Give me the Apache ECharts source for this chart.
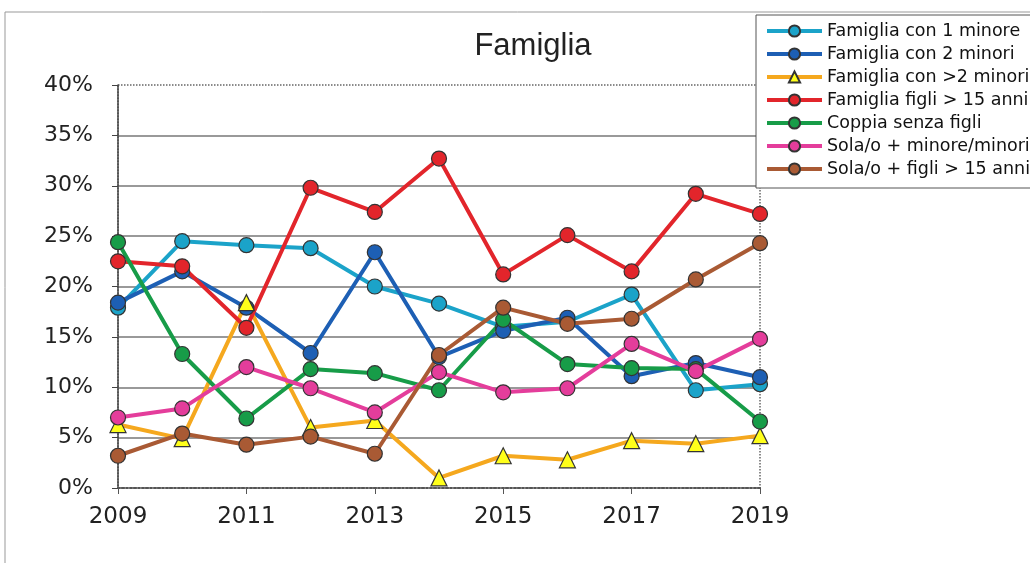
<!DOCTYPE html>
<html>
<head>
<meta charset="utf-8">
<script src="https://cdn.jsdelivr.net/npm/echarts@6/dist/echarts.min.js"></script>
<style>
  html, body { margin: 0; padding: 0; background: #fff; }
  #famiglia { width: 1030px; height: 563px; }
</style>
</head>
<body>
<div id="famiglia"></div>
<script>
var anni = ['2009', '2010', '2011', '2012', '2013', '2014', '2015', '2016', '2017', '2018', '2019']

var con1Minore = [17.9, 24.5, 24.1, 23.8, 20.0, 18.3, 16.0, 16.5, 19.2, 9.7, 10.3]
var con2Minori = [18.4, 21.5, 17.9, 13.4, 23.4, 13.0, 15.6, 16.9, 11.1, 12.4, 11.0]
var conPiuMinori = [6.3, 4.9, 18.4, 6.0, 6.7, 1.0, 3.2, 2.8, 4.7, 4.4, 5.2]
var figliOltre15 = [22.5, 22.0, 15.9, 29.8, 27.4, 32.7, 21.2, 25.1, 21.5, 29.2, 27.2]
var coppiaSenzaFigli = [24.4, 13.3, 6.9, 11.8, 11.4, 9.7, 16.7, 12.3, 11.9, 11.8, 6.6]
var solaMinori = [7.0, 7.9, 12.0, 9.9, 7.5, 11.5, 9.5, 9.9, 14.3, 11.6, 14.8]
var solaFigliOltre15 = [3.2, 5.4, 4.3, 5.1, 3.4, 13.2, 17.9, 16.3, 16.8, 20.7, 24.3]

var myChart = echarts.init(document.getElementById('famiglia'))

// serie con stile comune
function serie(nome, dati, colore, simbolo, riempimento) {
  return {
    name: nome,
    type: 'line',
    data: dati,
    symbol: simbolo || 'circle',
    symbolSize: simbolo === 'triangle' ? 16 : 15,
    showAllSymbol: true,
    lineStyle: { color: colore, width: 4 },
    itemStyle: {
      color: riempimento || colore,
      borderColor: '#333',
      borderWidth: 1.2
    },
    emphasis: { disabled: true },
    z: 3
  }
}

option = {
  animation: false,
  textStyle: { fontFamily: 'DejaVu Sans, sans-serif' },
  title: {
    text: 'Famiglia',
    left: 528,
    top: 26,
    textAlign: 'center',
    textStyle: { fontSize: 31, fontWeight: 'normal', color: '#222', fontFamily: 'Liberation Sans, Arial, sans-serif' }
  },
  legend: {
    orient: 'vertical',
    left: 756,
    top: 15,
    padding: [7, 20, 10, 9],
    itemWidth: 55,
    itemHeight: 14,
    itemGap: 5,
    backgroundColor: '#fff',
    borderColor: '#555',
    borderWidth: 1,
    lineStyle: { width: 4 },
    textStyle: { fontSize: 17.5, color: '#111' },
    data: [
      'Famiglia con 1 minore',
      'Famiglia con 2 minori',
      'Famiglia con >2 minori',
      'Famiglia figli > 15 anni',
      'Coppia senza figli',
      'Sola/o + minore/minori',
      'Sola/o + figli > 15 anni'
    ]
  },
  grid: {
    left: 118,
    right: 270,
    top: 85,
    bottom: 75,
    show: true,
    borderColor: '#666',
    borderWidth: 1.5,
    borderType: 'dotted'
  },
  xAxis: {
    type: 'category',
    data: anni,
    boundaryGap: false,
    axisLine: { lineStyle: { color: '#555', width: 2, type: 'dotted' } },
    axisTick: { show: true, interval: 1, length: 6, lineStyle: { color: '#555' } },
    axisLabel: { interval: 1, fontSize: 23, color: '#222', margin: 18 },
    splitLine: { show: false }
  },
  yAxis: {
    type: 'value',
    min: 0,
    max: 40,
    interval: 5,
    axisLine: { show: true, lineStyle: { color: '#444', width: 1.5 } },
    axisTick: { show: true, length: 6, lineStyle: { color: '#444' } },
    axisLabel: { formatter: '{value}%', fontSize: 22, color: '#222', margin: 25 },
    splitLine: { show: true, showMaxLine: false, showMinLine: false, lineStyle: { color: '#777', width: 1.5 } }
  },
  graphic: [
    {
      type: 'polyline',
      shape: { points: [[5, 563], [5, 12], [1030, 12]] },
      style: { stroke: '#999', lineWidth: 1, fill: null },
      silent: true
    }
  ],
  series: [
    serie('Famiglia con 1 minore', con1Minore, '#1ba3c9'),
    serie('Famiglia con 2 minori', con2Minori, '#1d5fb4'),
    serie('Famiglia con >2 minori', conPiuMinori, '#f5a81e', 'triangle', '#ffff1a'),
    serie('Famiglia figli > 15 anni', figliOltre15, '#e2252b'),
    serie('Coppia senza figli', coppiaSenzaFigli, '#179c48'),
    serie('Sola/o + minore/minori', solaMinori, '#e43d9b'),
    serie('Sola/o + figli > 15 anni', solaFigliOltre15, '#a95a34')
  ]
}
myChart.setOption(option)
window.onresize = function() {
  myChart.resize()
}
</script>
</body>
</html>
